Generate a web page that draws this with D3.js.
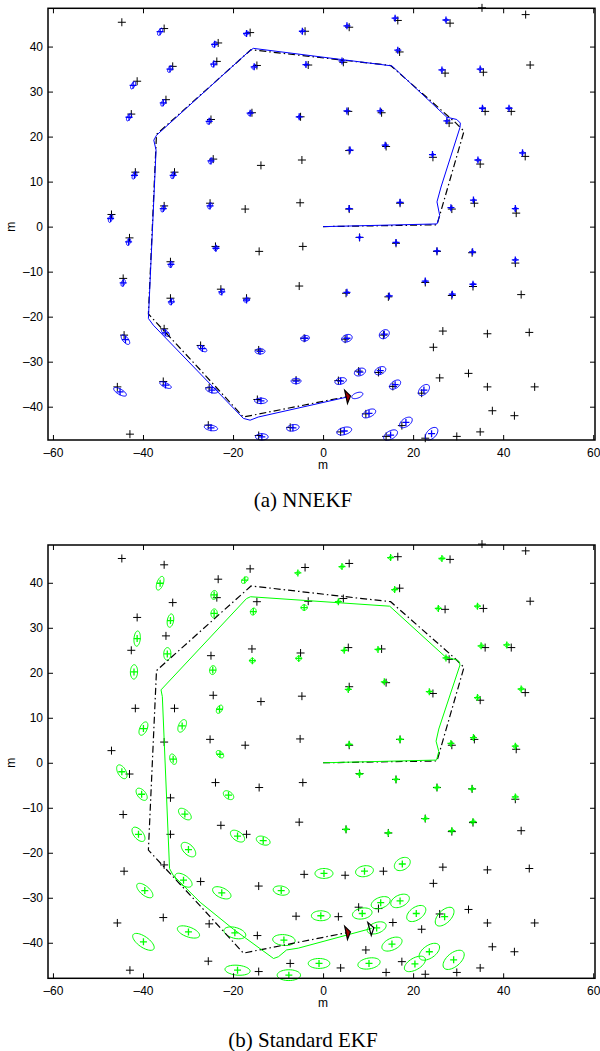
<!DOCTYPE html>
<html><head><meta charset="utf-8">
<script src="https://cdn.jsdelivr.net/npm/d3@7"></script>
<style>body{margin:0;background:#fff}</style>
</head><body><svg id="c" width="600" height="1051" xmlns="http://www.w3.org/2000/svg"></svg>
<script>
// ---------- data ----------
const xTicks = [-60, -40, -20, 0, 20, 40, 60];
const yTicks = [-40, -30, -20, -10, 0, 10, 20, 30, 40];
const panelCaptions = ["(a) NNEKF", "(b) Standard EKF"];
const axisLabel = "m";

// true landmark positions [x, y] (m)
const landmarks = [
  [-44.7,45.4],[-41.3,32.3],[-42.6,25.0],[-41.7,12.1],[-47.0,2.7],[-43.0,-2.5],[-44.4,-11.5],[-44.2,-24.1],[-45.7,-35.6],[-42.9,-46.1],
  [-35.3,44.0],[-33.4,35.6],[-34.9,28.2],[-33.0,12.1],[-35.3,4.6],[-33.9,-7.8],[-33.9,-15.9],[-35.3,-22.7],[-35.5,-34.4],
  [-23.3,40.8],[-23.6,36.7],[-24.9,23.8],[-24.4,15.0],[-25.1,5.2],[-23.9,-4.4],[-22.7,-13.9],[-27.2,-26.4],[-25.3,-35.8],[-25.5,-44.1],
  [-16.2,43.1],[-14.7,35.8],[-15.8,25.3],[-13.8,13.6],[-17.3,3.9],[-14.2,-5.5],[-17.0,-15.9],[-14.3,-27.4],[-14.6,-38.4],[-14.3,-46.4],
  [-4.0,43.4],[-3.3,35.9],[-5.0,24.4],[-4.7,14.8],[-5.1,5.3],[-4.5,-4.4],[-5.3,-13.2],[-4.2,-24.8],[-6.0,-34.1],[-7.3,-44.6],
  [5.8,44.3],[4.5,36.5],[5.6,25.6],[5.8,16.9],[5.8,3.9],[8.1,-2.4],[5.1,-14.8],[4.9,-25.0],[3.4,-34.2],[7.9,-32.1],[9.5,-41.6],[3.9,-45.6],
  [16.6,45.8],[17.0,38.8],[13.0,25.3],[14.0,17.8],[17.1,5.2],[16.2,-3.7],[14.5,-15.6],[13.4,-24.1],[12.3,-32.4],[15.5,-35.5],[17.5,-44.2],[14.0,-46.6],
  [28.2,45.2],[27.1,34.1],[28.0,23.0],[24.4,15.4],[28.6,3.9],[25.3,-5.5],[22.7,-12.4],[28.6,-15.3],[26.6,-23.2],[24.5,-26.8],[25.9,-33.6],[21.9,-37.0],[22.7,-47.0],[29.7,-46.6],
  [35.3,48.6],[35.6,34.3],[36.0,25.6],[34.9,13.9],[33.6,5.2],[33.1,-5.8],[33.3,-13.3],[36.5,-23.8],[32.3,-32.6],[36.5,-35.6],[37.6,-40.9],[34.9,-45.6],
  [45.0,47.1],[46.0,35.9],[41.8,25.6],[44.9,15.6],[42.9,3.0],[42.7,-8.1],[44.0,-15.1],[45.8,-23.5],[47.0,-35.6],[42.5,-42.0]
];

// NNEKF landmark estimates [x, y, semi-major, semi-minor, angle deg] (m)
const nnekfEstimates = [
  [-36.2,43.3,0.9,0.4,60],[-42.2,31.4,0.9,0.4,60],[-43.1,24.3,0.9,0.4,60],[-41.9,11.4,0.9,0.4,65],[-33.3,11.4,0.8,0.4,65],
  [-47.2,1.8,0.9,0.4,70],[-35.5,4.0,0.8,0.4,65],[-25.1,4.6,0.7,0.4,60],[-24.9,14.6,0.7,0.4,60],[-25.3,23.4,0.7,0.4,60],
  [-16.2,25.2,0.6,0.35,50],[-24.3,36.1,0.7,0.4,55],[-24.1,40.5,0.7,0.4,55],[-34.0,35.0,0.8,0.4,60],[-35.5,27.5,0.8,0.4,60],
  [-17.0,42.9,0.6,0.35,45],[-15.3,35.5,0.6,0.35,45],[-5.3,24.4,0.4,0.3,45],[-4.6,43.4,0.5,0.3,40],
  [5.3,44.6,0.4,0.3,30],[16.0,46.3,0.4,0.3,30],[27.3,45.9,0.4,0.3,30],[16.6,39.2,0.4,0.3,30],[-3.8,36.0,0.4,0.3,30],
  [4.2,36.8,0.4,0.3,30],[26.4,34.8,0.4,0.3,30],[34.9,35.0,0.4,0.3,30],[5.3,25.7,0.35,0.25,30],[12.7,25.7,0.35,0.25,30],
  [27.5,23.5,0.35,0.25,30],[35.4,26.3,0.4,0.3,30],[41.3,26.3,0.4,0.3,30],[6.0,17.0,0.35,0.25,30],[13.8,18.1,0.35,0.25,30],
  [24.3,16.0,0.35,0.25,30],[34.4,14.8,0.4,0.3,30],[44.3,16.4,0.4,0.3,30],[5.8,4.0,0.3,0.25,30],[17.1,5.4,0.3,0.25,30],
  [28.4,4.2,0.35,0.25,30],[33.4,5.9,0.35,0.25,30],[42.7,4.0,0.4,0.3,30],
  [8.1,-2.4,0.3,0.25,30],[16.2,-3.5,0.3,0.25,30],[25.3,-5.4,0.35,0.25,30],[33.2,-5.6,0.35,0.25,30],[42.7,-7.4,0.4,0.3,30],
  [5.3,-14.6,0.35,0.25,30],[14.7,-15.4,0.35,0.25,30],[22.7,-12.1,0.35,0.25,30],[28.7,-15.0,0.35,0.25,30],[33.3,-12.8,0.4,0.3,30],
  [-43.2,-3.4,0.8,0.4,70],[-33.8,-8.4,0.7,0.4,70],[-23.8,-4.8,0.6,0.4,70],[-44.4,-12.5,0.8,0.4,70],[-33.7,-16.7,0.7,0.45,60],
  [-22.5,-14.5,0.7,0.4,50],[-17.0,-16.3,0.7,0.4,20],[-43.9,-25.1,1.3,0.6,-50],[-35.0,-23.6,1.1,0.5,-40],[-26.8,-27.1,1.1,0.5,-30],
  [-14.0,-27.7,1.1,0.6,0],[-45.1,-36.7,1.6,0.6,-30],[-35.0,-35.2,1.4,0.5,-25],[-24.7,-36.3,1.4,0.6,-15],[-13.8,-38.7,1.4,0.6,0],
  [-24.9,-44.7,1.5,0.6,-10],[-13.6,-46.7,1.4,0.7,0],[-6.0,-34.3,1.1,0.6,0],[-6.7,-44.7,1.4,0.7,10],[-4.0,-24.8,1.0,0.6,10],
  [5.3,-24.8,1.2,0.8,20],[13.6,-23.9,1.2,0.9,35],[8.2,-32.3,1.3,0.8,20],[12.7,-32.0,1.3,0.8,25],[3.9,-34.3,1.3,0.7,15],
  [16.0,-35.1,1.4,0.8,35],[22.4,-36.3,1.5,0.9,45],[10.2,-41.5,1.6,0.8,25],[18.4,-43.5,1.6,0.9,35],[4.7,-45.4,1.7,0.8,15],
  [15.0,-46.3,1.7,0.9,30],[24.1,-46.0,1.7,1.0,45]
];

// Standard EKF landmark estimates [x, y, semi-major, semi-minor, angle deg] (m)
const ekfEstimates = [
  [-36.2,39.9,1.6,0.7,70],[-41.3,27.6,1.7,0.7,85],[-42.0,20.2,1.6,0.8,88],[-33.9,31.6,1.5,0.7,80],[-34.6,24.2,1.4,0.8,88],
  [-39.9,7.6,1.6,0.8,65],[-31.3,8.2,1.5,0.8,65],[-23.0,11.9,1.0,0.6,60],[-24.5,20.6,1.0,0.7,80],[-24.2,33.2,1.0,0.7,85],
  [-24.2,37.3,1.0,0.7,80],[-17.4,40.6,0.9,0.5,45],[-15.5,33.6,0.8,0.6,70],[-15.7,22.7,0.6,0.5,0],[-5.6,42.2,0.5,0.35,30],
  [-5.4,23.2,0.6,0.5,0],[-33.3,0.8,1.2,0.7,-70],[-22.9,1.9,1.0,0.6,-45],[-4.2,34.5,0.7,0.6,0],
  [-44.7,-2.0,1.7,0.9,-60],[-40.3,-7.0,1.6,0.9,-50],[-30.7,-11.4,1.7,0.9,-40],[-21.0,-7.2,1.3,0.8,-35],[-41.0,-15.9,1.9,1.0,-50],
  [-29.9,-19.3,2.0,1.1,-45],[-19.0,-16.3,1.8,1.0,-35],[-13.3,-17.3,1.6,0.9,-20],[-39.6,-28.4,2.2,1.0,-40],[-31.0,-26.1,2.2,1.1,-35],
  [-22.5,-28.9,2.2,1.1,-25],[-9.3,-28.4,1.8,1.0,-10],[-39.9,-39.8,2.8,1.2,-35],[-29.9,-37.6,2.6,1.1,-20],[-19.6,-37.8,2.5,1.2,-15],
  [-8.7,-39.4,2.5,1.2,-5],[-19.0,-46.1,2.8,1.1,-5],[-7.6,-47.2,2.6,1.2,0],
  [0.2,-24.6,2.0,1.1,0],[9.2,-24.1,2.0,1.2,10],[17.6,-22.5,1.9,1.3,30],[-0.5,-34.0,2.1,1.1,0],[8.7,-33.5,2.2,1.2,10],
  [12.8,-31.1,2.2,1.2,20],[17.1,-30.7,2.2,1.3,25],[20.7,-33.5,2.4,1.4,35],[27.0,-34.2,2.6,1.4,45],[11.9,-36.7,2.2,1.2,20],
  [15.3,-40.3,2.4,1.3,25],[23.6,-42.0,2.6,1.4,35],[29.0,-43.8,2.8,1.5,40],[-0.9,-44.6,2.4,1.1,0],[10.2,-44.6,2.5,1.2,10],
  [20.4,-44.7,2.6,1.3,30],
  [15.0,45.6,0.5,0.35,30],[26.4,45.4,0.5,0.35,30],[4.2,43.6,0.5,0.35,30],[15.9,38.5,0.5,0.35,30],[3.4,35.8,0.5,0.35,30],
  [25.6,34.3,0.5,0.35,30],[34.3,34.8,0.5,0.35,30],[4.7,25.0,0.45,0.3,30],[12.2,25.2,0.45,0.3,30],[27.3,23.3,0.45,0.3,30],
  [35.1,26.0,0.5,0.35,30],[40.8,26.2,0.5,0.35,30],[5.6,16.3,0.45,0.3,30],[13.6,18.0,0.45,0.3,30],[23.6,15.8,0.45,0.3,30],
  [34.3,14.5,0.5,0.35,30],[44.0,16.4,0.5,0.35,30],[5.8,4.1,0.4,0.3,30],[17.1,5.2,0.4,0.3,30],[28.4,4.3,0.45,0.3,30],
  [33.4,5.6,0.45,0.3,30],[42.7,3.7,0.5,0.35,30],[8.1,-2.5,0.4,0.3,30],[16.2,-3.7,0.4,0.3,30],[25.3,-5.5,0.45,0.3,30],
  [33.1,-5.8,0.45,0.3,30],[42.7,-7.6,0.5,0.35,30],[5.1,-14.8,0.45,0.3,30],[14.5,-15.6,0.45,0.3,30],[22.7,-12.4,0.45,0.3,30],
  [28.6,-15.1,0.45,0.3,30],[33.3,-13.1,0.5,0.35,30]
];

// true trajectory
const truePathX = [0, 25.3, 31.3, 29.3, 15.0, 4.2, -16.0, -37.0, -38.8, -27.3, -17.7, 5.6];
const truePathY = [0, 0.4, 21.2, 23.2, 35.8, 37.0, 39.3, 20.5, -19.4, -31.8, -42.3, -37.7];
// NNEKF estimated trajectory
const nnekfPathX = [0, 25.3, 25.9, 25.3, 26.2, 30.4, 30.5, 29.7, 27.5, 15.3, -15.5, -16.6, -37.0, -37.6, -37.1, -38.8, -37.7, -17.7, -16.2, -14.4, 5.6];
const nnekfPathY = [0, 0.6, 2.5, 5.5, 8.8, 22.0, 23.0, 23.8, 24.3, 35.7, 39.6, 38.8, 20.3, 19.2, 17.0, -20.4, -21.9, -42.6, -43.0, -42.3, -37.8];
// Standard EKF estimated trajectory
const ekfPathX = [0, 25.2, 25.7, 25.1, 25.7, 30.4, 30.3, 29.8, 27.1, 14.8, -16.1, -17.0, -36.0, -35.7, -34.1, -33.3, -27.3, -19.9, -11.0, -9.9, -8.1, -5.5, 10.8];
const ekfPathY = [0, 0.6, 2.5, 4.8, 7.5, 21.7, 22.4, 22.8, 23.6, 34.8, 36.9, 36.5, 16.2, 14.7, -23.5, -25.0, -31.0, -37.0, -43.5, -43.1, -41.6, -41.2, -36.8];

// robot poses [x, y, heading deg]
const trueRobot = [5.6, -37.7, 12];
const nnekfRobotEllipse = [7.6, -37.5, 1.3, 0.6, 20];
const ekfRobot = [10.8, -36.8, 15];

const panelYDomains = [[-47.4, 48.5], [-47.9, 48.4]];
const xDomain = [-61.1, 60.4];

// ---------- drawing ----------
const svg = d3.select("#c");
const fontSans = "'Liberation Sans', Arial, Helvetica, sans-serif";
const fontSerif = "'Liberation Serif', 'Times New Roman', serif";

const panels = [
  {top: 8.3, bottom: 440, color: "#0000ff", est: nnekfEstimates, px: nnekfPathX, py: nnekfPathY,
   xlabY: 469, capY: 507},
  {top: 545, bottom: 978.3, color: "#00ff00", est: ekfEstimates, px: ekfPathX, py: ekfPathY,
   xlabY: 1007, capY: 1047}
];
const left = 48, right = 595, captionX = 303;

function ellipsePoints(e) {
  const [cx, cy, a, b, ang] = e;
  const th = ang * Math.PI / 180;
  return d3.range(0, 41).map(i => {
    const t = i / 40 * 2 * Math.PI;
    const ex = a * Math.cos(t), ey = b * Math.sin(t);
    return [cx + ex * Math.cos(th) - ey * Math.sin(th), cy + ex * Math.sin(th) + ey * Math.cos(th)];
  });
}
function robotPoints(r) {
  const [cx, cy, h] = r;
  const th = h * Math.PI / 180;
  const local = [[0.5, 0], [-0.5, 1.5], [-0.5, -1.5]];
  return local.map(([u, v]) => [cx + u * Math.cos(th) - v * Math.sin(th), cy + u * Math.sin(th) + v * Math.cos(th)]);
}
const fmt = d => d < 0 ? "\u2013" + (-d) : String(d);

panels.forEach((p, i) => {
  const x = d3.scaleLinear().domain(xDomain).range([left, right]);
  const y = d3.scaleLinear().domain(panelYDomains[i]).range([p.bottom, p.top]);
  const g = svg.append("g");
  const line = d3.line().x(d => x(d[0])).y(d => y(d[1]));
  const closed = d3.line().x(d => x(d[0])).y(d => y(d[1])).curve(d3.curveLinearClosed);
  const plus = "M-4,0H4M0,-4V4";
  const plusS = "M-3.5,0H3.5M0,-3.5V3.5";

  // true landmarks
  g.append("g").selectAll("path").data(landmarks).join("path")
    .attr("d", plus).attr("transform", d => `translate(${x(d[0])},${y(d[1])})`)
    .attr("stroke", "#000").attr("stroke-width", 1).attr("fill", "none");

  // estimated landmarks: ellipses + crosses
  const eg = g.append("g");
  eg.selectAll("path.ell").data(p.est).join("path").attr("class", "ell")
    .attr("d", d => closed(ellipsePoints(d)))
    .attr("fill", "none").attr("stroke", p.color).attr("stroke-width", 1);
  eg.selectAll("path.est").data(p.est).join("path").attr("class", "est")
    .attr("d", plusS).attr("transform", d => `translate(${x(d[0])},${y(d[1])})`)
    .attr("stroke", p.color).attr("stroke-width", 1.3).attr("fill", "none");

  // true path (dash-dot)
  g.append("path").datum(truePathX.map((v, k) => [v, truePathY[k]]))
    .attr("d", line).attr("fill", "none").attr("stroke", "#000")
    .attr("stroke-width", 1.2).attr("stroke-dasharray", "7,3,1.5,3");
  // estimated path
  g.append("path").datum(p.px.map((v, k) => [v, p.py[k]]))
    .attr("d", line).attr("fill", "none").attr("stroke", p.color).attr("stroke-width", 1);

  // robots
  if (i === 0) {
    g.append("path").datum(ellipsePoints(nnekfRobotEllipse)).attr("d", closed)
      .attr("fill", "none").attr("stroke", p.color).attr("stroke-width", 1);
  } else {
    g.append("path").datum(robotPoints(ekfRobot)).attr("d", closed)
      .attr("fill", "none").attr("stroke", "#000").attr("stroke-width", 1.2);
  }
  g.append("path").datum(robotPoints(trueRobot)).attr("d", closed)
    .attr("fill", "#a00000").attr("stroke", "#000").attr("stroke-width", 1.2);

  // axes (ticks inward on all sides)
  const ax = svg.append("g").attr("font-family", fontSans);
  const bottomAx = ax.append("g").attr("transform", `translate(0,${p.bottom})`)
    .call(d3.axisBottom(x).tickValues(xTicks).tickSizeInner(-5).tickSizeOuter(0).tickPadding(8).tickFormat(fmt));
  const topAx = ax.append("g").attr("transform", `translate(0,${p.top})`)
    .call(d3.axisTop(x).tickValues(xTicks).tickSizeInner(-5).tickSizeOuter(0).tickFormat(""));
  const leftAx = ax.append("g").attr("transform", `translate(${left},0)`)
    .call(d3.axisLeft(y).tickValues(yTicks).tickSizeInner(-5).tickSizeOuter(0).tickPadding(5).tickFormat(fmt));
  const rightAx = ax.append("g").attr("transform", `translate(${right},0)`)
    .call(d3.axisRight(y).tickValues(yTicks).tickSizeInner(-5).tickSizeOuter(0).tickFormat(""));
  [bottomAx, topAx, leftAx, rightAx].forEach(a => {
    a.select(".domain").remove();
    a.selectAll("line").attr("stroke", "#000").attr("stroke-width", 1);
    a.selectAll("text").attr("font-size", 12).attr("fill", "#000").attr("font-family", fontSans);
  });
  ax.append("rect").attr("x", left).attr("y", p.top).attr("width", right - left).attr("height", p.bottom - p.top)
    .attr("fill", "none").attr("stroke", "#000").attr("stroke-width", 1.5);

  // axis labels
  ax.append("text").attr("x", x(0)).attr("y", p.xlabY).attr("text-anchor", "middle")
    .attr("font-size", 12).attr("font-family", fontSans).text(axisLabel);
  ax.append("text").attr("transform", `translate(15,${y(0)}) rotate(-90)`).attr("text-anchor", "middle")
    .attr("font-size", 12).attr("font-family", fontSans).text(axisLabel);

  // caption
  svg.append("text").attr("x", captionX).attr("y", p.capY).attr("text-anchor", "middle")
    .attr("font-size", 21).attr("font-family", fontSerif).text(panelCaptions[i]);
});
</script>
</body></html>
